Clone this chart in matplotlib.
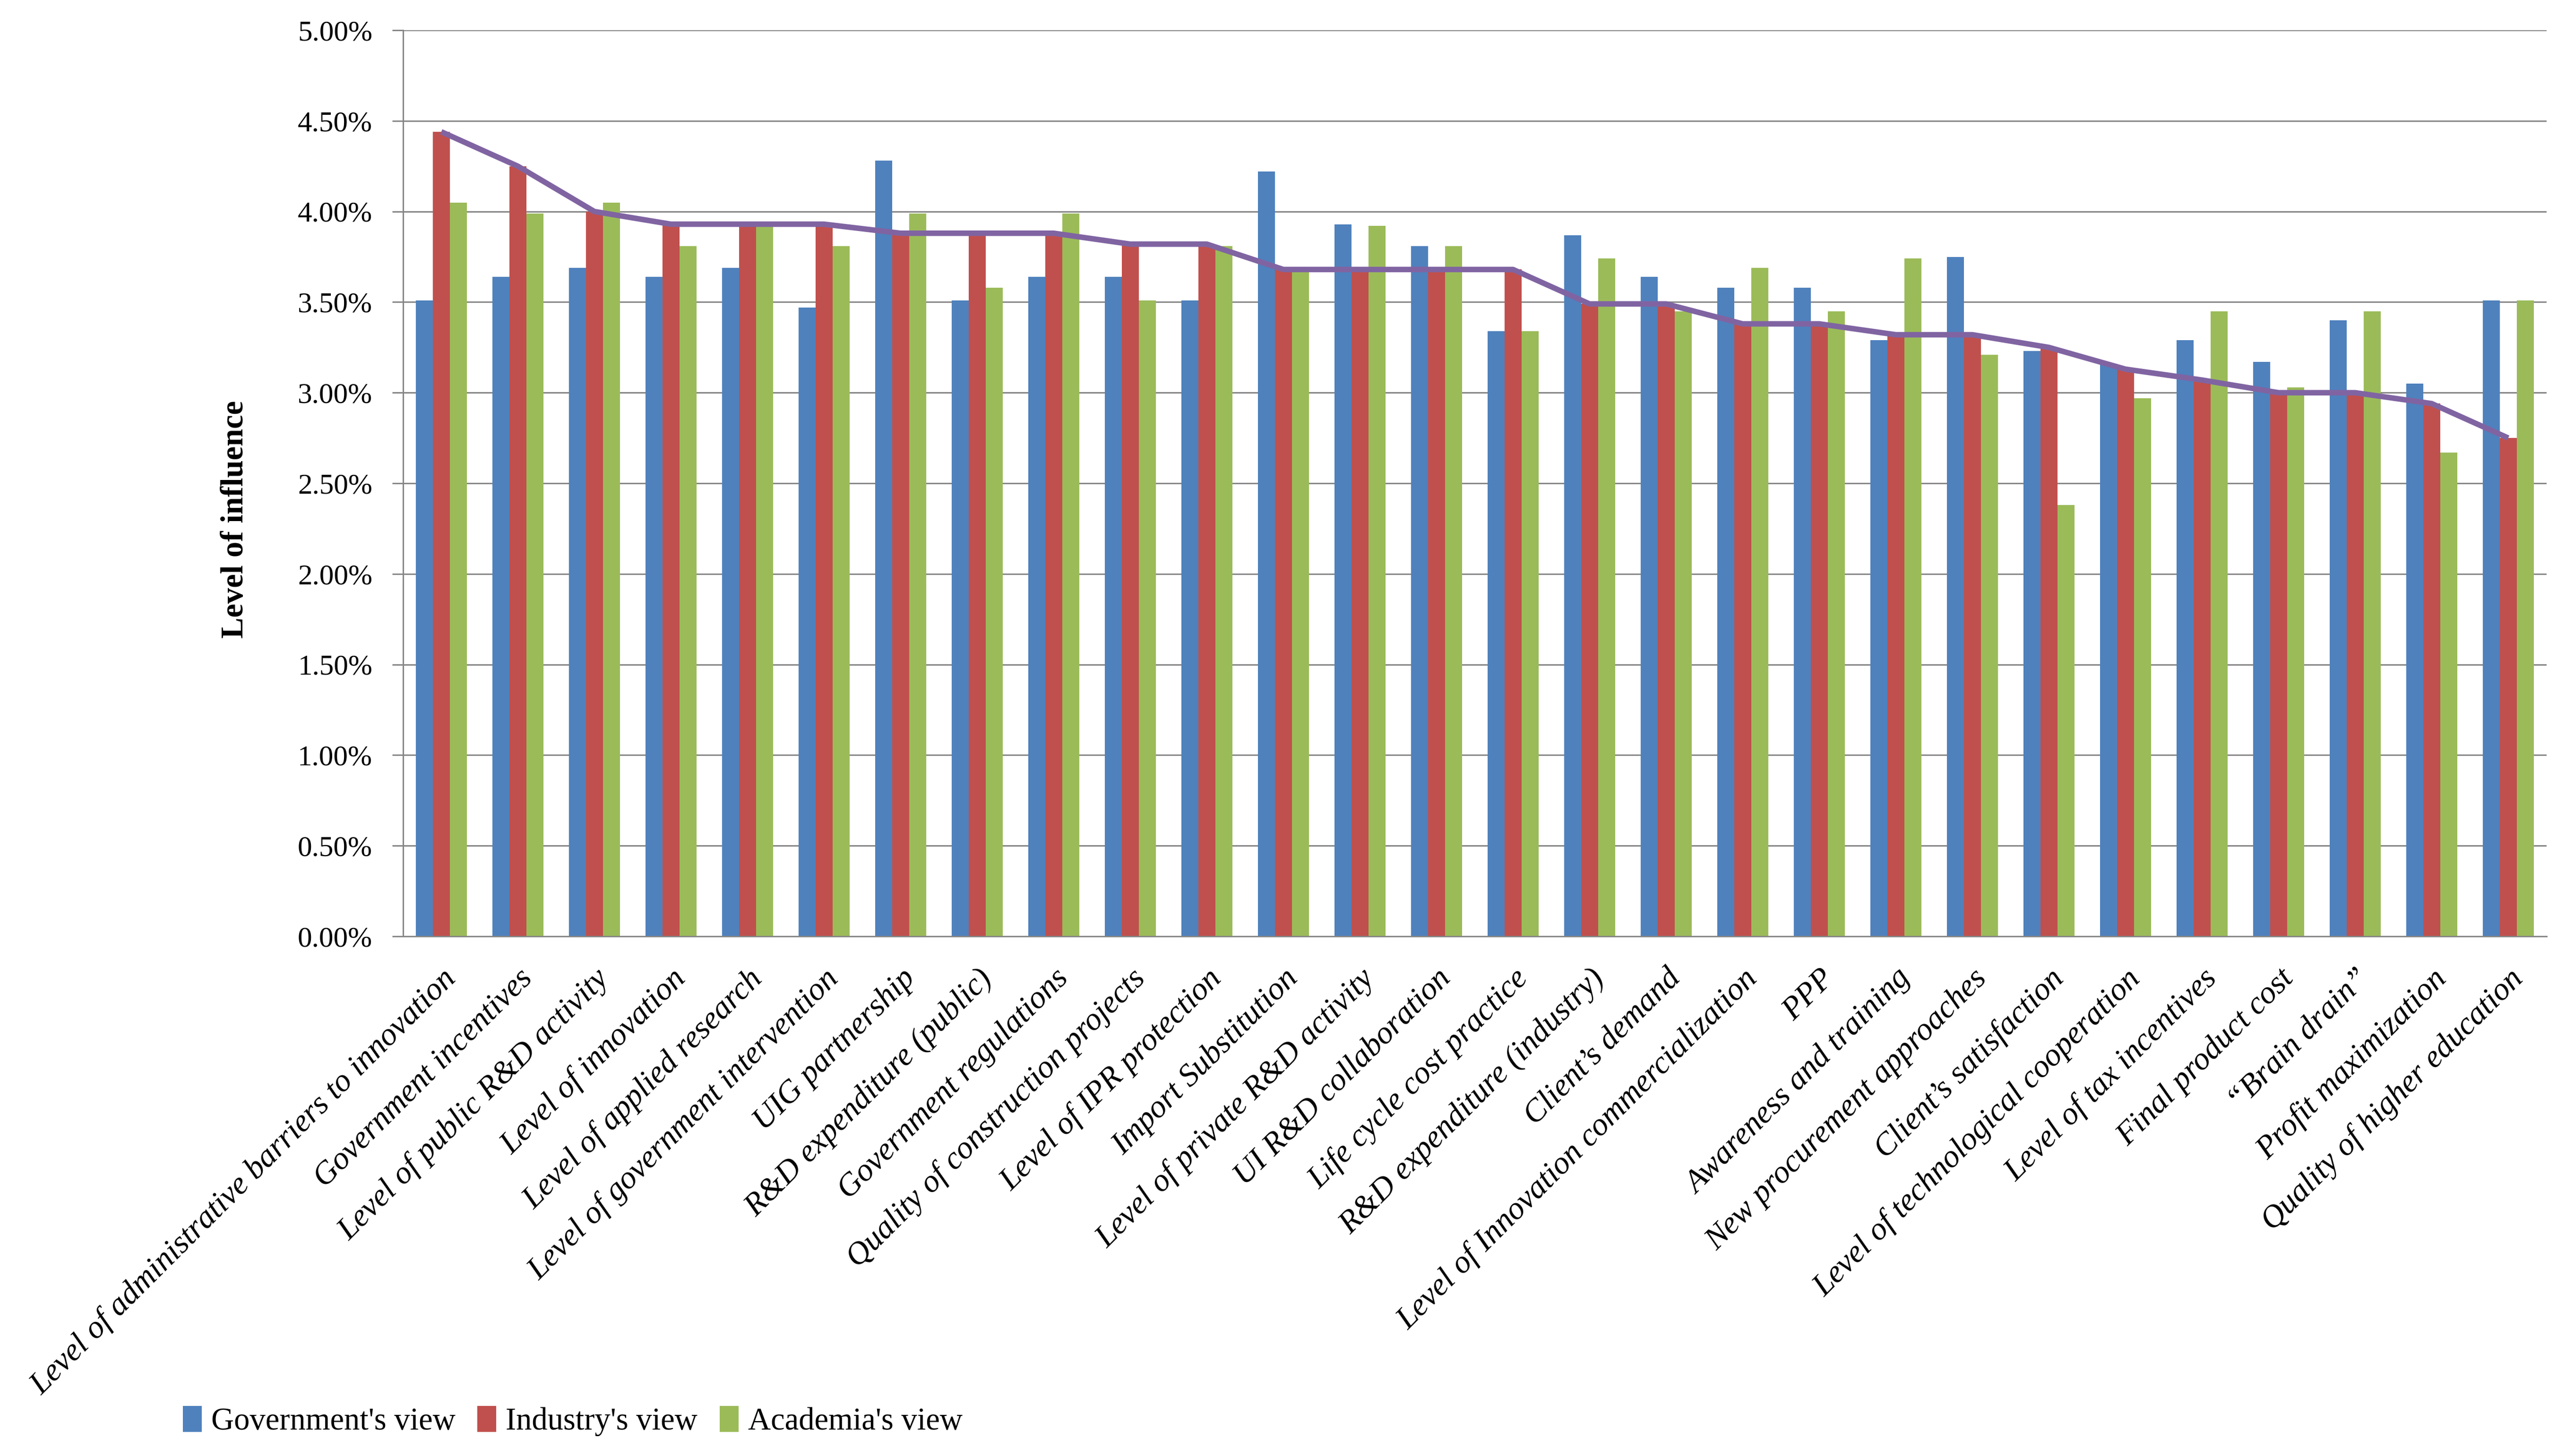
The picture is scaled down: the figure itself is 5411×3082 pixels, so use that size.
import matplotlib
matplotlib.use("Agg")
import matplotlib.pyplot as plt
import numpy as np
from matplotlib.ticker import FuncFormatter

# categories, in the order of the chart (sorted by industry's view)
factores = [
    "Level of administrative barriers to innovation",
    "Government incentives",
    "Level of public R&D activity",
    "Level of innovation",
    "Level of applied research",
    "Level of government intervention",
    "UIG partnership",
    "R&D expenditure (public)",
    "Government regulations",
    "Quality of construction projects",
    "Level of IPR protection",
    "Import Substitution",
    "Level of private R&D activity",
    "UI R&D collaboration",
    "Life cycle cost practice",
    "R&D expenditure (industry)",
    "Client\u2019s demand",
    "Level of Innovation commercialization",
    "PPP",
    "Awareness and training",
    "New procurement approaches",
    "Client\u2019s satisfaction",
    "Level of technological cooperation",
    "Level of tax incentives",
    "Final product cost",
    "\u201cBrain drain\u201d",
    "Profit maximization",
    "Quality of higher education",
]

# level of influence, in percent
gobierno = [3.51, 3.64, 3.69, 3.64, 3.69, 3.47, 4.28, 3.51, 3.64, 3.64,
            3.51, 4.22, 3.93, 3.81, 3.34, 3.87, 3.64, 3.58, 3.58, 3.29,
            3.75, 3.23, 3.16, 3.29, 3.17, 3.40, 3.05, 3.51]
industria = [4.44, 4.25, 4.00, 3.93, 3.93, 3.93, 3.88, 3.88, 3.88, 3.82,
             3.82, 3.68, 3.68, 3.68, 3.68, 3.49, 3.49, 3.38, 3.38, 3.32,
             3.32, 3.25, 3.13, 3.07, 3.00, 3.00, 2.94, 2.75]
academia = [4.05, 3.99, 4.05, 3.81, 3.93, 3.81, 3.99, 3.58, 3.99, 3.51,
            3.81, 3.68, 3.92, 3.81, 3.34, 3.74, 3.45, 3.69, 3.45, 3.74,
            3.21, 2.38, 2.97, 3.45, 3.03, 3.45, 2.67, 3.51]

series = ["Government's view", "Industry's view", "Academia's view"]
colores = ["#4F81BD", "#C0504D", "#9BBB59"]
color_linea = "#8064A2"
color_grid = "#868686"

plt.rcParams['font.family'] = ['Liberation Serif', 'DejaVu Serif']
plt.rcParams['font.size'] = 22

fig = plt.figure(figsize=(27.055, 15.41), dpi=200)
ax = fig.add_axes([0.1576, 0.3569, 0.8383, 0.6223])

x = np.arange(len(factores))
ancho = 0.2222
for i, (valores, nombre, color) in enumerate(zip([gobierno, industria, academia], series, colores)):
    ax.bar(x + (i - 1) * ancho, valores, width=ancho, color=color, label=nombre, zorder=2)

# industry view as line
ax.plot(x, industria, color=color_linea, linewidth=4.2, zorder=3, solid_capstyle='butt')

ax.set_xlim(-0.5, len(factores) - 0.5)
ax.set_ylim(0, 5.0)
ax.set_yticks(np.arange(0, 5.01, 0.5))
ax.yaxis.set_major_formatter(FuncFormatter(lambda v, p: f"{v:.2f}%"))
ax.grid(axis='y', color=color_grid, linewidth=1.1, zorder=0)
ax.set_axisbelow(True)

for lado in ['top', 'right']:
    ax.spines[lado].set_visible(False)
for lado in ['left', 'bottom']:
    ax.spines[lado].set_color(color_grid)
    ax.spines[lado].set_linewidth(1.1)

ax.tick_params(axis='y', length=8.3, width=1.1, color=color_grid, pad=15, labelsize=22)
ax.tick_params(axis='x', length=0, pad=21)
ax.set_xticks(x)
ax.set_xticklabels(factores, rotation=45, ha='right', rotation_mode='anchor',
                   fontstyle='italic', fontsize=24.5)

ax.set_ylabel("Level of influence", fontsize=24, fontweight='bold')
ax.yaxis.set_label_coords(-0.0715, 0.46)

fig.legend(loc='center left', bbox_to_anchor=(0.0715, 0.024), ncol=3, frameon=False,
           borderpad=0, borderaxespad=0, handlelength=0.6, handleheight=0.9,
           handletextpad=0.3, columnspacing=0.7, fontsize=24)

fig.savefig("out.png", dpi=200)
